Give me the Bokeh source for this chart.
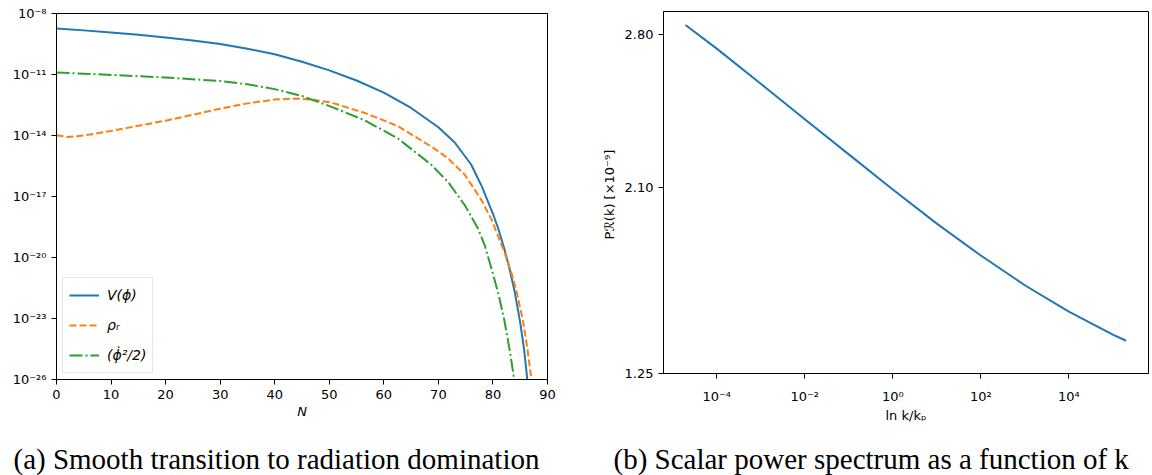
from bokeh.plotting import figure
from bokeh.models import FixedTicker, Title, Range1d, Legend
from bokeh.layouts import row, column
from bokeh.embed import file_html
from bokeh.resources import INLINE

# ---------------- (a) energy densities vs N (values read as log10) ----------------
N_V = [0, 5, 10, 15, 20, 25, 30, 35, 40, 45, 50, 55, 60, 65, 70, 73, 76, 78, 80, 81, 82, 83,
       84, 85, 85.7, 86.3, 86.6]
log10_V = [-8.74, -8.83, -8.93, -9.05, -9.18, -9.33, -9.50, -9.73, -10.0, -10.37, -10.795,
           -11.295, -11.895, -12.645, -13.595, -14.345, -15.425, -16.525, -17.85, -18.6, -19.5,
           -20.5, -21.7, -23.2, -24.5, -26.0, -27.0]

N_rho = [0, 2, 5, 10, 15, 20, 25, 30, 35, 40, 44, 47, 50.4, 56.5, 62.6, 68.8, 71.8, 74.9, 77.9,
         79.8, 81, 82.2, 83.5, 84.4, 85.5, 86.3, 87.1, 87.4]
log10_rho = [-13.99, -14.07, -14.0, -13.78, -13.52, -13.27, -12.98, -12.68, -12.42, -12.23,
             -12.18, -12.24, -12.38, -12.89, -13.54, -14.56, -15.13, -15.95, -17.18, -18.17,
             -18.99, -19.8, -20.85, -21.75, -23.1, -24.45, -26.1, -26.8]

N_kin = [0, 10, 20, 30, 35, 40, 45, 50.4, 56.5, 62.6, 68.8, 71.8, 74.9, 77.3, 78.5, 80.1, 81.1,
         82.1, 83.1, 83.9, 84.2]
log10_kin = [-10.90, -11.02, -11.15, -11.32, -11.48, -11.72, -12.06, -12.59, -13.25, -14.15,
             -15.46, -16.3, -17.45, -18.6, -19.4, -20.9, -21.9, -23.1, -24.6, -26.0, -26.6]

left_x_ticks = [0, 10, 20, 30, 40, 50, 60, 70, 80, 90]
left_y_ticks = [1e-26, 1e-23, 1e-20, 1e-17, 1e-14, 1e-11, 1e-8]
left_y_labels = ["10⁻²⁶", "10⁻²³", "10⁻²⁰", "10⁻¹⁷", "10⁻¹⁴", "10⁻¹¹", "10⁻⁸"]
legend_labels = ["V(ϕ)", "ρᵣ", "(ϕ̇²/2)"]

# ---------------- (b) scalar power spectrum ----------------
log10_k = [-4.71, -4.0, -3.0, -2.0, -1.0, 0.0, 1.0, 2.0, 3.0, 4.0, 5.0, 5.30]
P_R = [2.845, 2.737, 2.576, 2.414, 2.253, 2.092, 1.936, 1.79, 1.654, 1.533, 1.428, 1.40]

right_x_ticks = [1e-4, 1e-2, 1e0, 1e2, 1e4]
right_x_labels = ["10⁻⁴", "10⁻²", "10⁰", "10²", "10⁴"]
right_y_ticks = [1.25, 2.10, 2.80]
right_y_labels = ["1.25", "2.10", "2.80"]

caption_a = "(a) Smooth transition to radiation domination"
caption_b = "(b) Scalar power spectrum as a function of k"

BLUE, ORANGE, GREEN = "#1f77b4", "#ff7f0e", "#2ca02c"
TICK_FONT = "DejaVu Sans"
CAPTION_FONT = "Liberation Serif"


def style_axes(p):
    for ax in (p.xaxis[0], p.yaxis[0]):
        ax.axis_line_color = "black"
        ax.axis_line_width = 1
        ax.major_tick_line_color = "black"
        ax.major_tick_out = 5
        ax.major_tick_in = 0
        ax.minor_tick_out = 0
        ax.minor_tick_in = 0
        ax.major_label_text_font = TICK_FONT
        ax.major_label_text_font_size = "13px"
        ax.major_label_text_color = "black"
        ax.axis_label_text_font = TICK_FONT
        ax.axis_label_text_font_size = "13px"
        ax.axis_label_text_color = "black"
        ax.axis_label_text_font_style = "normal"
    p.xgrid.visible = False
    p.ygrid.visible = False
    p.outline_line_color = "black"
    p.outline_line_width = 1
    p.outline_line_alpha = 1


def caption_figure(width, text, border_left, border_right, offset):
    c = figure(width=width, height=45, output_backend="svg", toolbar_location=None, tools="",
               x_axis_location=None, y_axis_location=None,
               x_range=Range1d(0, 1), y_range=Range1d(0, 1),
               min_border_left=border_left, min_border_right=border_right,
               min_border_top=44, min_border_bottom=0)
    c.xgrid.visible = False
    c.ygrid.visible = False
    c.outline_line_color = None
    c.add_layout(Title(text=text, align="left", offset=offset, standoff=0,
                       text_font=CAPTION_FONT, text_font_size="29px", text_font_style="normal",
                       text_color="black"), "above")
    return c


# ---- figure (a)
p1 = figure(width=580, height=430, y_axis_type="log", output_backend="svg",
            toolbar_location=None, tools="",
            x_range=Range1d(0, 90), y_range=Range1d(1e-26, 1e-8),
            min_border_left=56, min_border_right=33, min_border_top=13, min_border_bottom=51)
style_axes(p1)
p1.xaxis.ticker = FixedTicker(ticks=left_x_ticks, minor_ticks=[])
p1.yaxis.ticker = FixedTicker(ticks=left_y_ticks, minor_ticks=[])
p1.yaxis.major_label_overrides = {t: l for t, l in zip(left_y_ticks, left_y_labels)}
p1.xaxis.axis_label = "N"
p1.xaxis.axis_label_text_font_style = "italic"
p1.xaxis.axis_label_standoff = 2

r1 = p1.line(N_V, [10 ** v for v in log10_V], line_color=BLUE, line_width=2)
r2 = p1.line(N_rho, [10 ** v for v in log10_rho], line_color=ORANGE, line_width=2, line_dash="7 3")
r3 = p1.line(N_kin, [10 ** v for v in log10_kin], line_color=GREEN, line_width=2, line_dash="13 3 2 3")

legend = Legend(items=[(legend_labels[0], [r1]), (legend_labels[1], [r2]), (legend_labels[2], [r3])],
                location="bottom_left")
legend.label_text_font = TICK_FONT
legend.label_text_font_size = "14px"
legend.label_text_font_style = "italic"
legend.label_text_color = "black"
legend.glyph_width = 30
legend.glyph_height = 22
legend.label_height = 22
legend.spacing = 8
legend.padding = 6
legend.margin = 6
legend.label_standoff = 8
legend.border_line_color = "#cccccc"
legend.border_line_width = 1
legend.background_fill_alpha = 0.8
p1.add_layout(legend)

# ---- figure (b)
p2 = figure(width=572, height=430, x_axis_type="log", output_backend="svg",
            toolbar_location=None, tools="",
            x_range=Range1d(10 ** -5.21, 10 ** 5.81), y_range=Range1d(1.25, 2.907),
            min_border_left=83, min_border_right=4, min_border_top=11, min_border_bottom=57)
style_axes(p2)
p2.xaxis.ticker = FixedTicker(ticks=right_x_ticks, minor_ticks=[])
p2.xaxis.major_label_overrides = {t: l for t, l in zip(right_x_ticks, right_x_labels)}
p2.xaxis.major_label_standoff = 10
p2.xaxis.axis_label_standoff = 1
p2.yaxis.ticker = FixedTicker(ticks=right_y_ticks, minor_ticks=[])
p2.yaxis.major_label_overrides = {t: l for t, l in zip(right_y_ticks, right_y_labels)}
p2.xaxis.axis_label = "ln k/kₚ"
p2.yaxis.axis_label = "Pℛ(k)  [×10⁻⁹]"

p2.line([10 ** v for v in log10_k], P_R, line_color=BLUE, line_width=2)

c1 = caption_figure(580, caption_a, 56, 33, -43)
c2 = caption_figure(572, caption_b, 83, 4, -50)

layout = row(column(p1, c1), column(p2, c2))
open("out.html", "w").write(file_html(layout, INLINE))
